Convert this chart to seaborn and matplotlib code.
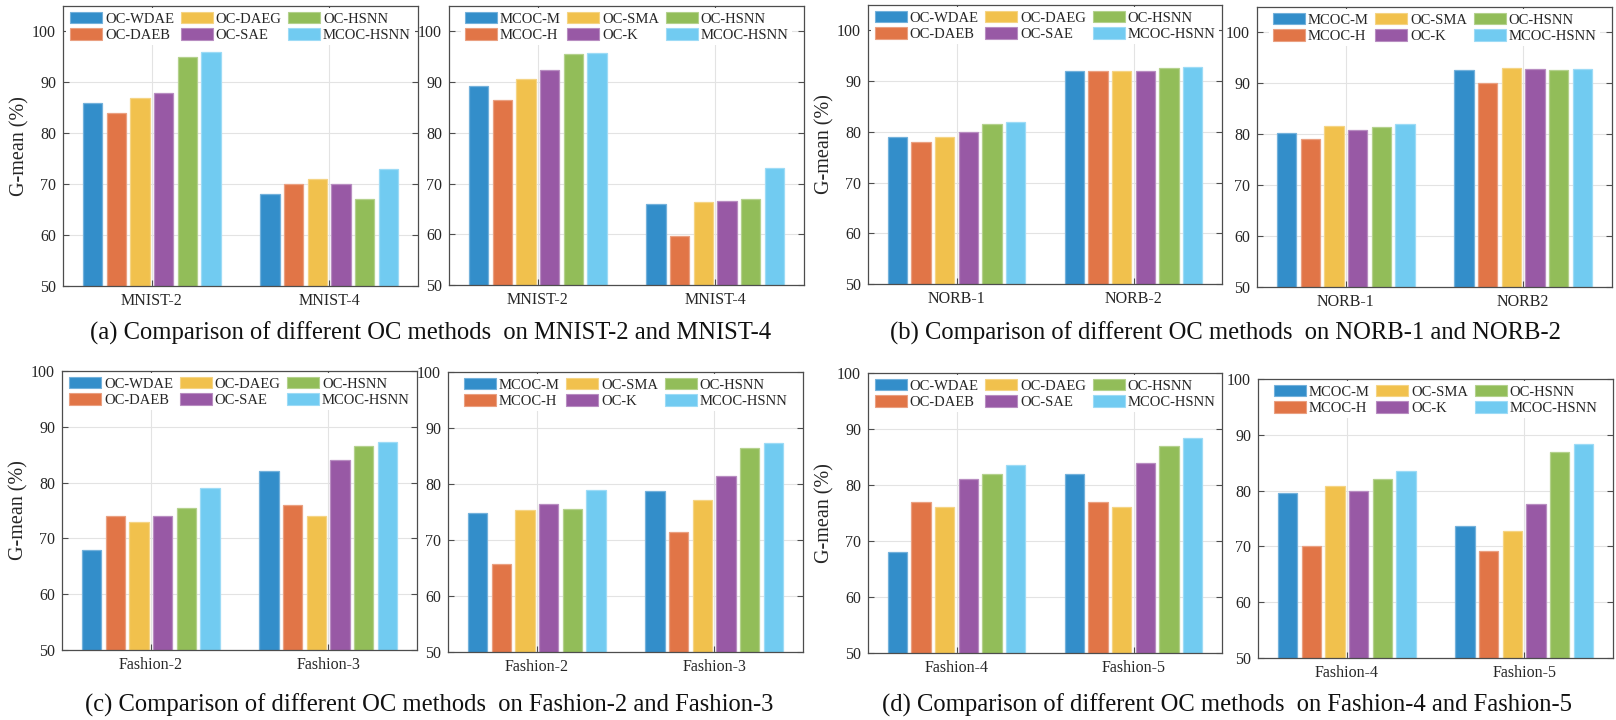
import numpy as np
import pandas as pd
import matplotlib
matplotlib.use('Agg')
import matplotlib.pyplot as plt
import seaborn as sns
from matplotlib.patches import Patch
from matplotlib.colors import to_rgb

sns.set_theme(style='white')
plt.rcParams['font.family'] = ['Liberation Serif', 'DejaVu Serif']

# ---------------- data ----------------
oc_methods = ['OC-WDAE', 'OC-DAEB', 'OC-DAEG', 'OC-SAE', 'OC-HSNN', 'MCOC-HSNN']
mcoc_methods = ['MCOC-M', 'MCOC-H', 'OC-SMA', 'OC-K', 'OC-HSNN', 'MCOC-HSNN']
base_colors = ['#0072BD', '#D95319', '#EDB120', '#7E2F8E', '#77AC30', '#4DBEEE']

mnist_cats = ['MNIST-2', 'MNIST-4']
mnist_oc_2 = [86, 84, 87, 88, 95, 96]
mnist_oc_4 = [68, 70, 71, 70, 67, 73]
mnist_mc_2 = [89.2, 86.5, 90.6, 92.4, 95.5, 95.8]
mnist_mc_4 = [65.9, 59.7, 66.3, 66.5, 66.9, 73.1]

norb_cats_a = ['NORB-1', 'NORB-2']
norb_cats_b = ['NORB-1', 'NORB2']
norb_oc_1 = [79, 78, 79, 80, 81.5, 82]
norb_oc_2 = [92, 92, 92, 92, 92.6, 92.8]
norb_mc_1 = [80.2, 79.0, 81.6, 80.9, 81.4, 82.0]
norb_mc_2 = [92.7, 90.1, 93.0, 92.8, 92.6, 92.8]

fash23_cats = ['Fashion-2', 'Fashion-3']
fash_oc_2 = [68, 74, 73, 74, 75.5, 79]
fash_oc_3 = [82, 76, 74, 84, 86.5, 87.3]
fash_mc_2 = [74.8, 65.8, 75.4, 76.4, 75.5, 78.9]
fash_mc_3 = [78.8, 71.4, 77.2, 81.4, 86.5, 87.3]

fash45_cats = ['Fashion-4', 'Fashion-5']
fash_oc_4 = [68, 77, 76, 81, 82, 83.5]
fash_oc_5 = [82, 77, 76, 84, 87, 88.4]
fash_mc_4 = [79.6, 70.1, 80.8, 80.0, 82.0, 83.5]
fash_mc_5 = [73.6, 69.2, 72.7, 77.6, 87.0, 88.4]

captions = [
    '(a) Comparison of different OC methods  on MNIST-2 and MNIST-4',
    '(b) Comparison of different OC methods  on NORB-1 and NORB-2',
    '(c) Comparison of different OC methods  on Fashion-2 and Fashion-3',
    '(d) Comparison of different OC methods  on Fashion-4 and Fashion-5',
]

# ---------------- styling helpers ----------------
def mix(c, a):
    r = np.array(to_rgb(c))
    return tuple(a * r + (1 - a) * 1.0)

face_colors = [mix(c, 0.8) for c in base_colors]
edge_colors = [mix(c, 0.55) for c in base_colors]

W, H = 1616, 720
fig = plt.figure(figsize=(W / 100, H / 100), dpi=100)

def ax_px(x0, y0, x1, y1):
    return fig.add_axes([x0 / W, 1 - y1 / H, (x1 - x0) / W, (y1 - y0) / H])

panels = [
    # (pixel box, cats, methods, vals, ylim_top, ylabel)
    ((63, 6, 418, 286), mnist_cats, oc_methods, [mnist_oc_2, mnist_oc_4], 105, True),
    ((449, 6, 804, 285), mnist_cats, mcoc_methods, [mnist_mc_2, mnist_mc_4], 105, False),
    ((868, 5, 1222, 284), norb_cats_a, oc_methods, [norb_oc_1, norb_oc_2], 105, True),
    ((1257, 7, 1612, 287), norb_cats_b, mcoc_methods, [norb_mc_1, norb_mc_2], 105, False),
    ((62, 371, 417, 650), fash23_cats, oc_methods, [fash_oc_2, fash_oc_3], 100, True),
    ((448, 372, 803, 652), fash23_cats, mcoc_methods, [fash_mc_2, fash_mc_3], 100, False),
    ((868, 373, 1222, 653), fash45_cats, oc_methods, [fash_oc_4, fash_oc_5], 100, True),
    ((1258, 379, 1613, 658), fash45_cats, mcoc_methods, [fash_mc_4, fash_mc_5], 100, False),
]

text_col = '#262626'
spine_col = '#4d4d4d'

for box, cats, methods, vals, ytop, ylab in panels:
    ax = ax_px(*box)
    rows = []
    for ci, cat in enumerate(cats):
        for mi, m in enumerate(methods):
            rows.append({'dataset': cat, 'method': m, 'value': vals[ci][mi]})
    df = pd.DataFrame(rows)
    sns.barplot(data=df, x='dataset', y='value', hue='method', order=cats,
                hue_order=methods, palette=face_colors, saturation=1,
                width=0.8, gap=0.18, errorbar=None, legend=False, ax=ax,
                edgecolor='none', linewidth=0)
    for mi, cont in enumerate(ax.containers):
        for p in cont:
            p.set_edgecolor(edge_colors[mi])
            p.set_linewidth(0.9)
            p.set_zorder(2)
    ax.set_xlim(-0.5, 1.5)
    ax.set_ylim(50, ytop)
    ax.set_yticks([50, 60, 70, 80, 90, 100])
    ax.set_xlabel('')
    ax.set_ylabel('G-mean (%)' if ylab else '', fontsize=14.5, color=text_col, labelpad=2)
    ax.grid(True, color='#e3e3e3', linewidth=0.8)
    ax.set_axisbelow(True)
    ax.tick_params(axis='both', direction='in', length=4, width=0.8,
                   colors=spine_col, labelcolor=text_col, labelsize=11.5,
                   top=True, right=True, bottom=True, left=True)
    ax.tick_params(axis='y', pad=5)
    ax.tick_params(axis='x', pad=5)
    for s in ax.spines.values():
        s.set_color(spine_col)
        s.set_linewidth(0.9)
        s.set_visible(True)
    handles = [Patch(facecolor=face_colors[i], edgecolor=edge_colors[i], linewidth=0.8,
                     label=methods[i]) for i in range(6)]
    leg = ax.legend(handles=handles, ncol=3, loc='upper center',
                    bbox_to_anchor=(0.5, 1.0), fontsize=10.5, frameon=True,
                    handlelength=2.2, handleheight=0.85, handletextpad=0.2,
                    columnspacing=0.45, labelspacing=0.15, borderpad=0.25,
                    borderaxespad=0.15)
    leg.get_frame().set_facecolor('white')
    leg.get_frame().set_edgecolor('none')
    leg.get_frame().set_alpha(1)
    for t in leg.get_texts():
        t.set_color(text_col)

cap_pos = [(431, 333), (1225, 333), (429, 705), (1227, 705)]
for (cx, cy), txt in zip(cap_pos, captions):
    fig.text(cx / W, 1 - cy / H, txt, ha='center', va='center',
             fontsize=17.7, color='#111111')

fig.savefig('out.png', dpi=100)
